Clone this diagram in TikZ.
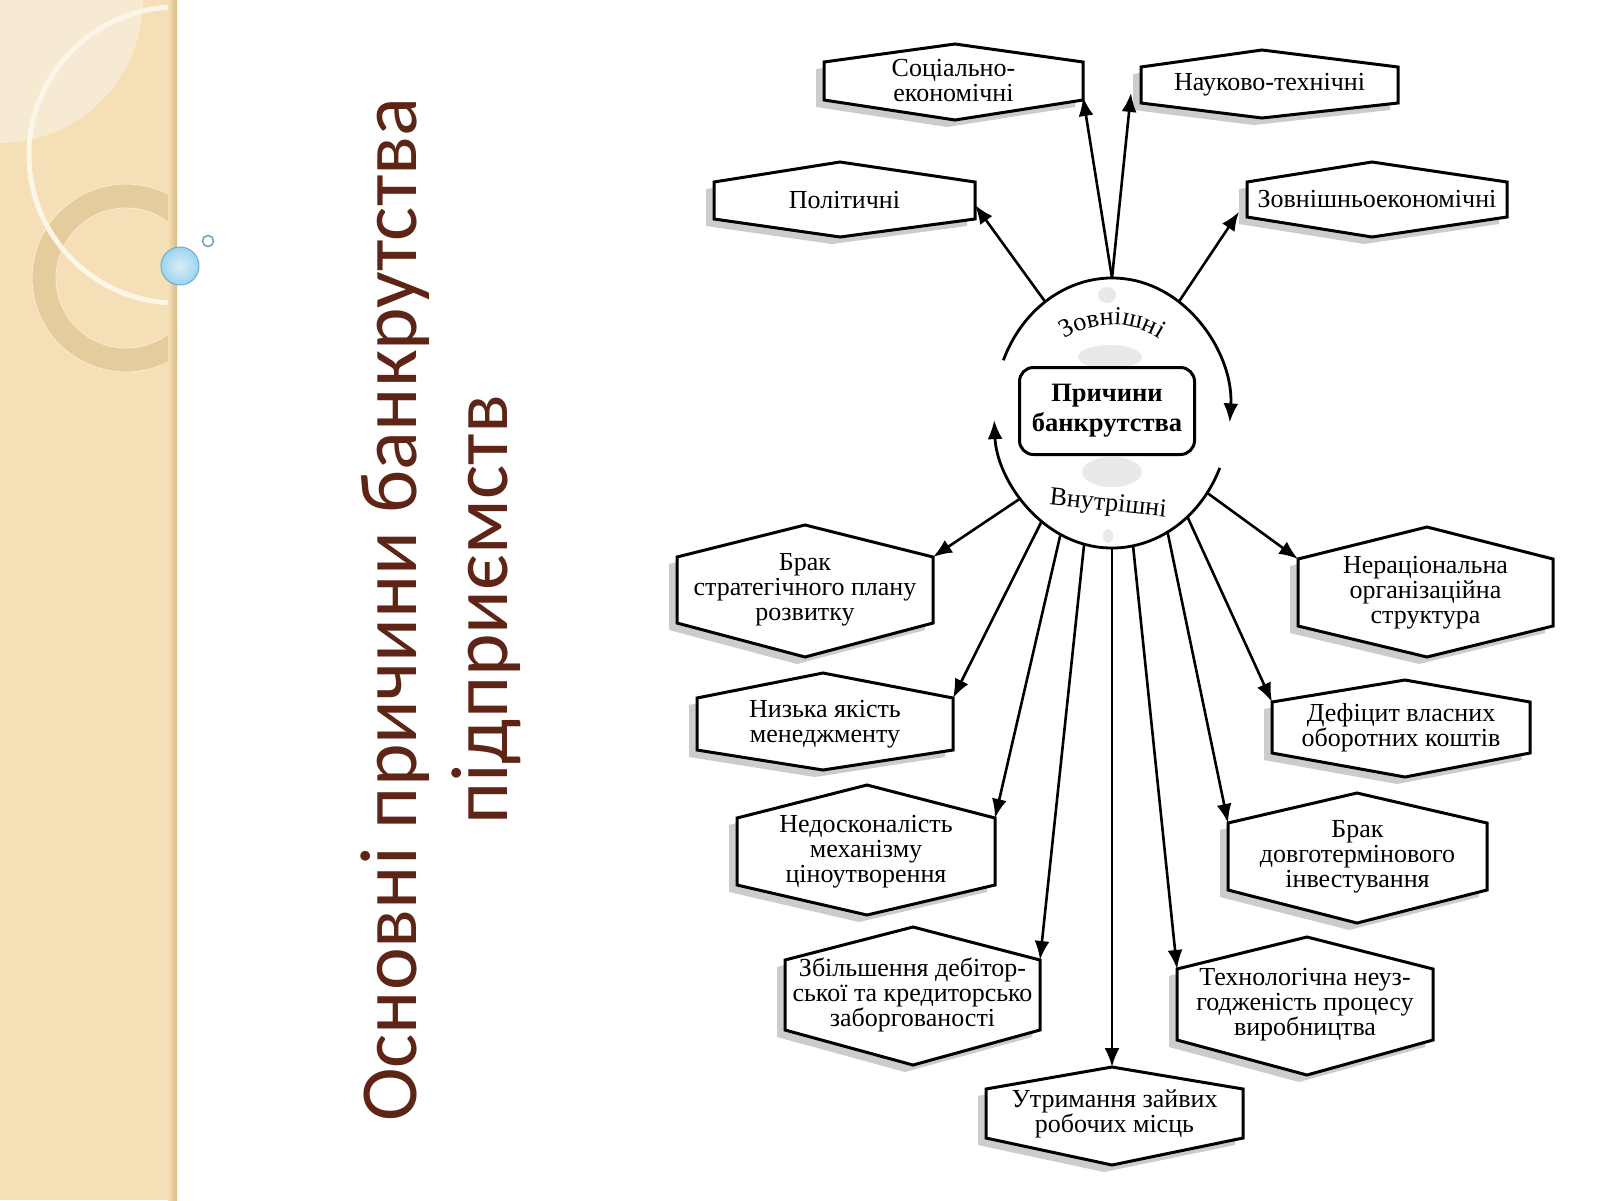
\documentclass[tikz,border=0pt]{standalone}
\usepackage{fontspec}
\setmainfont{Liberation Serif}
\newfontfamily\titlefont{Carlito}
\usetikzlibrary{arrows.meta,shapes.geometric,decorations.text,calc}

\definecolor{stripc}{HTML}{F4DFB6}
\definecolor{stripl}{HTML}{F7EAD2}
\definecolor{ringc}{HTML}{E2C896}
\definecolor{ringw}{HTML}{FCF6E8}
\definecolor{titlec}{HTML}{5E2416}
\definecolor{bubblec}{HTML}{9ED3EE}
\definecolor{bubbled}{HTML}{6AAED3}
\definecolor{shadowc}{gray}{0.80}

\newcommand\zfont{\fontsize{26}{26}\selectfont}

% #1 name, #2 xl, #3 xr, #4 peak x, #5 top peak y, #6 top corner y, #7 bottom corner y, #8 bottom peak y, #9 text
\newcommand\hexbox[9]{%
  \begin{scope}[shift={(-8,-7)}]
    \fill[hexshadow] (#2,-#6) -- (#4,-#5) -- (#3,-#6) -- (#3,-#7) -- (#4,-#8) -- (#2,-#7) -- cycle;
  \end{scope}
  \draw[hexline] (#2,-#6) -- (#4,-#5) -- (#3,-#6) -- (#3,-#7) -- (#4,-#8) -- (#2,-#7) -- cycle;
  \coordinate (#1-tl) at (#2,-#6);
  \coordinate (#1-tr) at (#3,-#6);
  \coordinate (#1-bl) at (#2,-#7);
  \coordinate (#1-br) at (#3,-#7);
  \coordinate (#1-t) at (#4,-#5);
  \node[boxtext] (#1) at ({(#2+#3)/2},{-(#6+#7)/2}) {#9};
}

\tikzset{
  hexline/.style={draw=black, line width=3pt, fill=white, line join=miter},
  hexshadow/.style={fill=shadowc},
  boxtext/.style={align=center, font=\fontsize{26}{25}\selectfont, inner sep=0pt},
  arr/.style={line width=2.6pt, -{Latex[length=19pt,width=15pt]}},
  ringarr/.style={line width=2.8pt, -{Latex[length=19pt,width=15pt]}},
  blob/.style={fill=gray!17},
  titletext/.style={font=\titlefont\fontsize{81}{90}\selectfont, text=titlec, rotate=90, anchor=base, inner sep=0pt},
}

\begin{document}
\begin{tikzpicture}[x=1pt, y=1pt]
\useasboundingbox (0,0) rectangle (1600,-1200);
\fill[white] (0,0) rectangle (1600,-1200);

% left decorative strip
\fill[stripc] (0,0) rectangle (177,-1200);
\begin{scope}
  \clip (0,0) rectangle (177,-1200);
  \fill[stripl] (0,0) circle (143);
  \fill[ringc, opacity=0.8, even odd rule] (126,-278) circle (94) (126,-278) circle (70);
  \draw[ringw!60!stripc, line width=0.8pt] (126,-278) circle (94) (126,-278) circle (70);
  \draw[ringw, line width=5pt] (177,-155) circle (148);
  \shade[left color=stripc, right color=ringc!80!brown] (168,0) rectangle (177,-1200);
\end{scope}
\shade[inner color=white!60!bubblec, outer color=bubblec] (180,-266) circle (19);
\draw[bubbled, line width=1pt] (180,-266) circle (19);
\draw[bubbled!70!gray, line width=1.5pt, fill=white] (208,-241) circle (5.5);

% title
\node[titletext] (title1) at (416,-610) {Основні причини банкрутства};
\node[titletext] (title2) at (507,-610) {підприємств};

% scan blobs
\fill[blob] (1110,-357) ellipse (32 and 12);
\fill[blob] (1112,-472) ellipse (30 and 15);
\fill[blob] (1107,-295) ellipse (9 and 8);
\fill[blob] (1108,-536) ellipse (5 and 7);

% hexagon boxes
\hexbox{soc}{824}{1083}{955}{44}{62}{100}{120}{Соціально-\\економічні}
\hexbox{nauk}{1141}{1398}{1262}{50}{67}{103}{118}{Науково-технічні}
\hexbox{pol}{714}{975}{840}{162}{182}{219}{237}{Політичні}
\hexbox{zovn}{1247}{1507}{1372}{162}{182}{217}{237}{Зовнішньоекономічні}
\hexbox{brak1}{677}{933}{805}{525}{557}{623}{657}{Брак\\стратегічного плану\\розвитку}
\hexbox{nyz}{697}{953}{823}{673}{698}{750}{770}{Низька якість\\менеджменту}
\hexbox{ned}{737}{995}{867}{785}{818}{885}{915}{Недосконалість\\механізму\\ціноутворення}
\hexbox{zbil}{785}{1040}{913}{927}{960}{1030}{1065}{Збільшення дебітор-\\ської та кредиторсько\\заборгованості}
\hexbox{utr}{986}{1243}{1112}{1067}{1089}{1138}{1165}{Утримання зайвих\\робочих місць}
\hexbox{tech}{1177}{1433}{1307}{937}{969}{1040}{1075}{Технологічна неуз-\\годженість процесу\\виробництва}
\hexbox{brakd}{1228}{1487}{1357}{793}{823}{890}{923}{Брак\\довготермінового\\інвестування}
\hexbox{def}{1272}{1530}{1405}{680}{702}{753}{777}{Дефіцит власних\\оборотних коштів}
\hexbox{nerac}{1298}{1553}{1427}{527}{559}{626}{657}{Нераціональна\\організаційна\\структура}

% central circle
\node[ellipse, minimum width=236pt, minimum height=270pt, inner sep=0pt, outer sep=0pt] (circ) at (1112,-413) {};
\draw[ringarr] ($(circ.center)+(157:118 and 135)$) arc[start angle=157, end angle=-4, x radius=118, y radius=135];
\draw[ringarr] ($(circ.center)+(-24:118 and 135)$) arc[start angle=-24, end angle=-177, x radius=118, y radius=135];
\path[decoration={text along path, text={|\zfont|Зовнішні}, text align=center}, decorate]
  ($(circ.center)+(132:88)$) arc[start angle=132, end angle=48, radius=88];
\node[font=\zfont, rotate=-6, inner sep=0pt] (inner) at (1108,-505) {Внутрішні};

\node[draw, line width=3pt, rounded corners=14pt, minimum width=175pt, minimum height=87pt,
      align=center, inner sep=0pt, font=\bfseries\fontsize{26.5}{30}\selectfont] (cause) at (1107,-411) {Причини\\банкрутства};

% arrows: external
\draw[arr] (circ.121) -- ($(pol-tr)!0.62!(pol-br)$);
\draw[arr] (circ.north) -- ($(soc-tr)!0.92!(soc-br)$);
\draw[arr] (circ.north) -- ($(nauk-tl)!0.72!(nauk-bl)+(-10,0)$);
\draw[arr] (circ.59) -- ($(zovn-tl)!0.85!(zovn-bl)+(-8,0)$);

% arrows: internal
\draw[arr] (circ.-137.5) -- (brak1-tr);
\draw[arr] (circ.-123.8) -- (nyz-tr);
\draw[arr] (circ.-113.7) -- (ned-tr);
\draw[arr] (circ.-102.4) -- (zbil-tr);
\draw[arr] (circ.south) -- (utr-t);
\draw[arr] (circ.-81.2) -- (tech-tl);
\draw[arr] (circ.-65) -- (brakd-tl);
\draw[arr] (circ.-54.7) -- (def-tl);
\draw[arr] (circ.-40.4) -- (nerac-tl);
\end{tikzpicture}
\end{document}
